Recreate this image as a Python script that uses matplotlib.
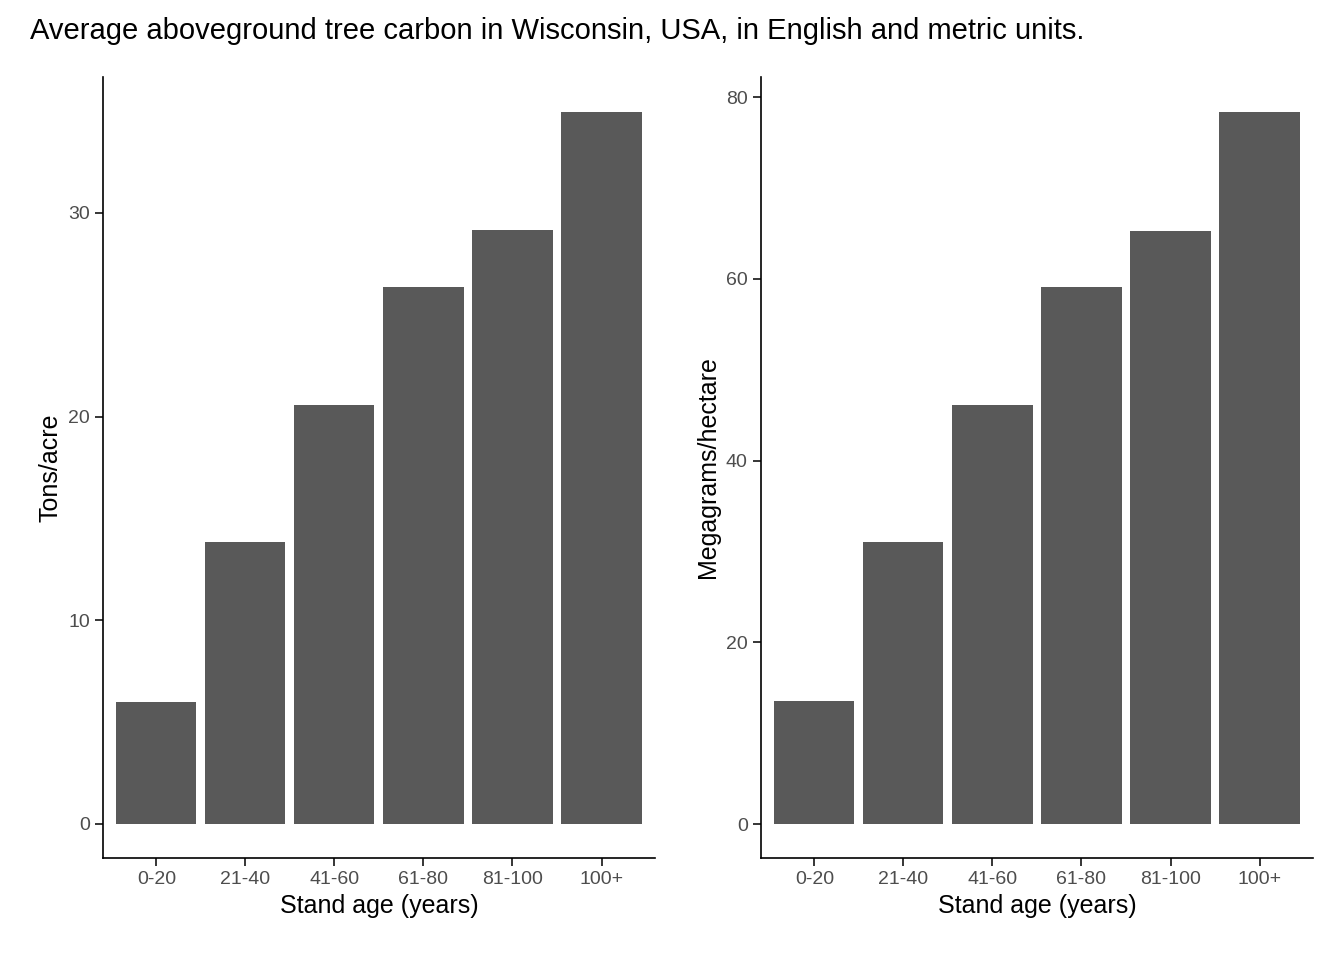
import matplotlib
matplotlib.use("Agg")
import matplotlib.pyplot as plt

categories = ["0-20", "21-40", "41-60", "61-80", "81-100", "100+"]
tons_acre = [6.0, 13.85, 20.55, 26.35, 29.15, 34.95]
mg_ha = [13.5, 31.0, 46.1, 59.1, 65.3, 78.3]

plt.rcParams['font.family'] = ['Liberation Sans', 'DejaVu Sans']
fig = plt.figure(figsize=(13.44, 9.6), dpi=100)

def panel(rect, vals, ylab, ylim, yticks):
    ax = fig.add_axes(rect)
    x = range(1, len(vals) + 1)
    ax.bar(x, vals, width=0.9, color="#595959")
    ax.set_xlim(0.4, 6.6)
    ax.set_ylim(*ylim)
    ax.set_xticks(list(x))
    ax.set_xticklabels(categories)
    ax.set_yticks(yticks)
    for s in ["top", "right"]:
        ax.spines[s].set_visible(False)
    for s in ["left", "bottom"]:
        ax.spines[s].set_linewidth(1.2)
    ax.tick_params(labelsize=14, labelcolor="#4d4d4d", length=6, width=1.1)
    ax.set_xlabel("Stand age (years)", fontsize=18)
    ax.set_ylabel(ylab, fontsize=18)
    return ax

panel([0.0766, 0.10625, 0.4107, 0.8135], tons_acre, "Tons/acre", (-1.67, 36.67), [0, 10, 20, 30])
panel([0.5662, 0.10625, 0.4107, 0.8135], mg_ha, "Megagrams/hectare", (-3.74, 82.2), [0, 20, 40, 60, 80])
fig.text(0.022, 0.968, "Average aboveground tree carbon in Wisconsin, USA, in English and metric units.",
         fontsize=21, va="center", ha="left")
fig.savefig("out.png", dpi=100)
